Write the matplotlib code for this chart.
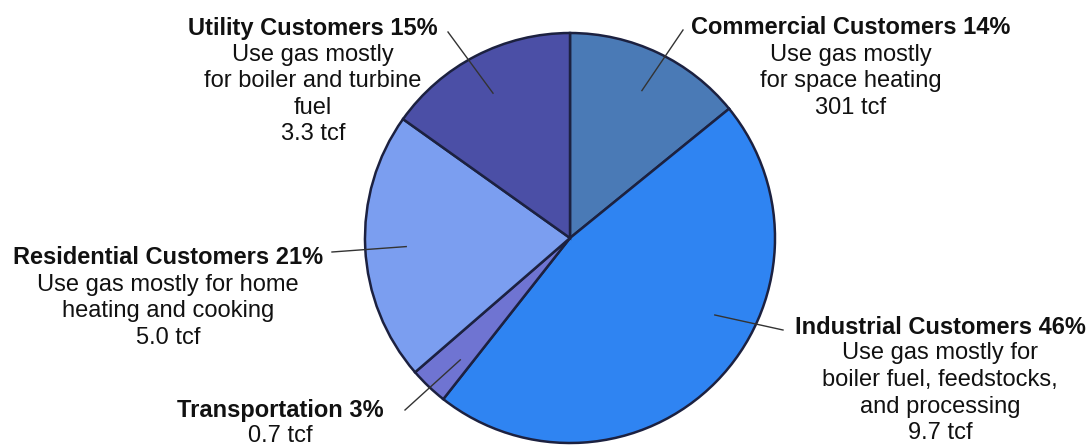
import numpy as np
import matplotlib
matplotlib.use("Agg")
import matplotlib.pyplot as plt

plt.rcParams['font.family'] = ['Liberation Sans', 'DejaVu Sans']

# data
sectors = ["Commercial", "Industrial", "Transportation", "Residential", "Utility"]
shares = [14, 46, 3, 21, 15]
headers = ["Commercial Customers 14%", "Industrial Customers 46%", "Transportation 3%",
           "Residential Customers 21%", "Utility Customers 15%"]
bodies = [
    ["Use gas mostly", "for space heating", "301 tcf"],
    ["Use gas mostly for", "boiler fuel, feedstocks,", "and processing", "9.7 tcf"],
    ["0.7 tcf"],
    ["Use gas mostly for home", "heating and cooking", "5.0 tcf"],
    ["Use gas mostly", "for boiler and turbine", "fuel", "3.3 tcf"],
]

# styling / layout (pixel coords, y measured from top)
colors = ["#4a7ab6", "#2f84f2", "#6f74d2", "#7b9ef0", "#4b4fa6"]
edge = "#1c2140"
W, H = 1092, 446
cx, cy, R = 570, 238, 205
label_xy = [(851, 28), (940, 327), (280, 410), (168, 258), (313, 28)]
leader_end = [(683, 30), (783, 330), (405, 410), (332, 252), (448, 32)]
leader_ang = [64, -28, -132, 183, 118]
fs = 17
gap = 26.5

fig = plt.figure(figsize=(W / 100, H / 100), dpi=100)
ax = fig.add_axes([0, 0, 1, 1])

ax.pie(shares, colors=colors, startangle=90, counterclock=False,
       center=(cx, H - cy), radius=R,
       wedgeprops=dict(edgecolor=edge, linewidth=1.8), frame=True)
ax.set_xlim(0, W)
ax.set_ylim(0, H)
ax.set_aspect('equal')
ax.axis('off')

for i in range(len(sectors)):
    lx, ly = label_xy[i]
    ax.text(lx, H - ly, headers[i], ha='center', va='center',
            fontsize=fs, fontweight='bold', color='#111111')
    for j, line in enumerate(bodies[i]):
        ax.text(lx, H - ly - (j + 1) * gap, line, ha='center', va='center',
                fontsize=fs, color='#111111')
    a = np.deg2rad(leader_ang[i])
    px = cx + 0.8 * R * np.cos(a)
    py = (H - cy) + 0.8 * R * np.sin(a)
    ex, ey = leader_end[i]
    ax.plot([ex, px], [H - ey, py], color='#333333', linewidth=1)

fig.savefig("out.png", dpi=100)
